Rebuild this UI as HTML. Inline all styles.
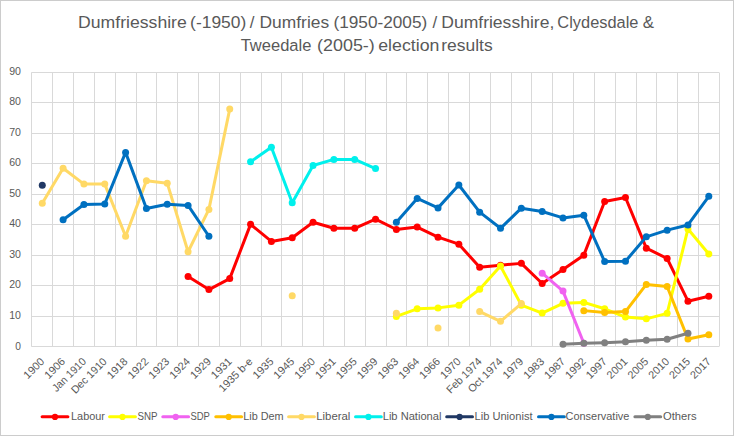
<!DOCTYPE html>
<html><head><meta charset="utf-8"><title>Dumfriesshire election results</title>
<style>html,body{margin:0;padding:0;background:#fff;}body{width:734px;height:436px;overflow:hidden;}svg{display:block;}text{font-family:'Liberation Sans', Arial, sans-serif;fill:#595959;}</style></head><body>
<svg width="734" height="436" viewBox="0 0 734 436">
<rect x="0" y="0" width="734" height="436" fill="#fff"/>
<rect x="0.5" y="0.5" width="733" height="435" fill="none" stroke="#CCCCCC" stroke-width="1"/>
<text x="78.05" y="27.80" font-size="16.9" textLength="108.73" lengthAdjust="spacingAndGlyphs">Dumfriesshire</text>
<text x="190.12" y="27.80" font-size="16.9" textLength="56.16" lengthAdjust="spacingAndGlyphs">(-1950)</text>
<text x="252.20" y="27.80" font-size="16.9" text-anchor="middle">/</text>
<text x="259.57" y="27.80" font-size="16.9" textLength="69.55" lengthAdjust="spacingAndGlyphs">Dumfries</text>
<text x="333.43" y="27.80" font-size="16.9" textLength="93.84" lengthAdjust="spacingAndGlyphs">(1950-2005)</text>
<text x="434.80" y="27.80" font-size="16.9" text-anchor="middle">/</text>
<text x="441.26" y="27.80" font-size="16.9" textLength="113.01" lengthAdjust="spacingAndGlyphs">Dumfriesshire,</text>
<text x="557.37" y="27.80" font-size="16.9" textLength="81.06" lengthAdjust="spacingAndGlyphs">Clydesdale</text>
<text x="648.30" y="27.80" font-size="16.9" text-anchor="middle">&amp;</text>
<text x="240.63" y="51.20" font-size="16.9" textLength="70.79" lengthAdjust="spacingAndGlyphs">Tweedale</text>
<text x="317.09" y="51.20" font-size="16.9" textLength="57.72" lengthAdjust="spacingAndGlyphs">(2005-)</text>
<text x="378.25" y="51.20" font-size="16.9" textLength="61.10" lengthAdjust="spacingAndGlyphs">election</text>
<text x="441.24" y="51.20" font-size="16.9" textLength="51.39" lengthAdjust="spacingAndGlyphs">results</text>
<path d="M31.4 346.5H719.0M31.4 316.5H719.0M31.4 285.5H719.0M31.4 255.5H719.0M31.4 224.5H719.0M31.4 194.5H719.0M31.4 163.5H719.0M31.4 133.5H719.0M31.4 102.5H719.0M31.4 72.5H719.0M31.5 72.5V346.5M52.5 72.5V346.5M73.5 72.5V346.5M94.5 72.5V346.5M115.5 72.5V346.5M136.5 72.5V346.5M156.5 72.5V346.5M177.5 72.5V346.5M198.5 72.5V346.5M219.5 72.5V346.5M240.5 72.5V346.5M261.5 72.5V346.5M281.5 72.5V346.5M302.5 72.5V346.5M323.5 72.5V346.5M344.5 72.5V346.5M365.5 72.5V346.5M386.5 72.5V346.5M406.5 72.5V346.5M427.5 72.5V346.5M448.5 72.5V346.5M469.5 72.5V346.5M490.5 72.5V346.5M511.5 72.5V346.5M531.5 72.5V346.5M552.5 72.5V346.5M573.5 72.5V346.5M594.5 72.5V346.5M615.5 72.5V346.5M636.5 72.5V346.5M656.5 72.5V346.5M677.5 72.5V346.5M698.5 72.5V346.5M719.5 72.5V346.5" stroke="#D9D9D9" stroke-width="1" fill="none"/>
<text x="21.00" y="350.10" font-size="10.8" textLength="5.68" lengthAdjust="spacingAndGlyphs" text-anchor="end">0</text>
<text x="21.00" y="318.81" font-size="10.8" textLength="11.76" lengthAdjust="spacingAndGlyphs" text-anchor="end">10</text>
<text x="21.00" y="288.32" font-size="10.8" textLength="11.76" lengthAdjust="spacingAndGlyphs" text-anchor="end">20</text>
<text x="21.00" y="257.83" font-size="10.8" textLength="11.76" lengthAdjust="spacingAndGlyphs" text-anchor="end">30</text>
<text x="21.00" y="227.34" font-size="10.8" textLength="11.76" lengthAdjust="spacingAndGlyphs" text-anchor="end">40</text>
<text x="21.00" y="196.86" font-size="10.8" textLength="11.76" lengthAdjust="spacingAndGlyphs" text-anchor="end">50</text>
<text x="21.00" y="166.37" font-size="10.8" textLength="11.76" lengthAdjust="spacingAndGlyphs" text-anchor="end">60</text>
<text x="21.00" y="135.88" font-size="10.8" textLength="11.76" lengthAdjust="spacingAndGlyphs" text-anchor="end">70</text>
<text x="21.00" y="105.39" font-size="10.8" textLength="11.76" lengthAdjust="spacingAndGlyphs" text-anchor="end">80</text>
<text x="21.00" y="74.90" font-size="10.8" textLength="11.76" lengthAdjust="spacingAndGlyphs" text-anchor="end">90</text>
<text transform="translate(45.07 362.20) rotate(-45)" font-size="10.8" text-anchor="end" textLength="24.33" lengthAdjust="spacingAndGlyphs">1900</text>
<text transform="translate(65.90 362.20) rotate(-45)" font-size="10.8" text-anchor="end" textLength="24.33" lengthAdjust="spacingAndGlyphs">1906</text>
<text transform="translate(86.73 362.20) rotate(-45)" font-size="10.8" text-anchor="end" textLength="42.92" lengthAdjust="spacingAndGlyphs">Jan 1910</text>
<text transform="translate(107.56 362.20) rotate(-45)" font-size="10.8" text-anchor="end" textLength="45.47" lengthAdjust="spacingAndGlyphs">Dec 1910</text>
<text transform="translate(128.39 362.20) rotate(-45)" font-size="10.8" text-anchor="end" textLength="24.33" lengthAdjust="spacingAndGlyphs">1918</text>
<text transform="translate(149.22 362.20) rotate(-45)" font-size="10.8" text-anchor="end" textLength="24.33" lengthAdjust="spacingAndGlyphs">1922</text>
<text transform="translate(170.04 362.20) rotate(-45)" font-size="10.8" text-anchor="end" textLength="24.33" lengthAdjust="spacingAndGlyphs">1923</text>
<text transform="translate(190.87 362.20) rotate(-45)" font-size="10.8" text-anchor="end" textLength="24.33" lengthAdjust="spacingAndGlyphs">1924</text>
<text transform="translate(211.70 362.20) rotate(-45)" font-size="10.8" text-anchor="end" textLength="24.33" lengthAdjust="spacingAndGlyphs">1929</text>
<text transform="translate(232.53 362.20) rotate(-45)" font-size="10.8" text-anchor="end" textLength="24.33" lengthAdjust="spacingAndGlyphs">1931</text>
<text transform="translate(253.36 362.20) rotate(-45)" font-size="10.8" text-anchor="end" textLength="42.99" lengthAdjust="spacingAndGlyphs">1935 b-e</text>
<text transform="translate(274.19 362.20) rotate(-45)" font-size="10.8" text-anchor="end" textLength="24.33" lengthAdjust="spacingAndGlyphs">1935</text>
<text transform="translate(295.02 362.20) rotate(-45)" font-size="10.8" text-anchor="end" textLength="24.33" lengthAdjust="spacingAndGlyphs">1945</text>
<text transform="translate(315.85 362.20) rotate(-45)" font-size="10.8" text-anchor="end" textLength="24.33" lengthAdjust="spacingAndGlyphs">1950</text>
<text transform="translate(336.68 362.20) rotate(-45)" font-size="10.8" text-anchor="end" textLength="24.33" lengthAdjust="spacingAndGlyphs">1951</text>
<text transform="translate(357.50 362.20) rotate(-45)" font-size="10.8" text-anchor="end" textLength="24.33" lengthAdjust="spacingAndGlyphs">1955</text>
<text transform="translate(378.33 362.20) rotate(-45)" font-size="10.8" text-anchor="end" textLength="24.33" lengthAdjust="spacingAndGlyphs">1959</text>
<text transform="translate(399.16 362.20) rotate(-45)" font-size="10.8" text-anchor="end" textLength="24.33" lengthAdjust="spacingAndGlyphs">1963</text>
<text transform="translate(419.99 362.20) rotate(-45)" font-size="10.8" text-anchor="end" textLength="24.33" lengthAdjust="spacingAndGlyphs">1964</text>
<text transform="translate(440.82 362.20) rotate(-45)" font-size="10.8" text-anchor="end" textLength="24.33" lengthAdjust="spacingAndGlyphs">1966</text>
<text transform="translate(461.65 362.20) rotate(-45)" font-size="10.8" text-anchor="end" textLength="24.33" lengthAdjust="spacingAndGlyphs">1970</text>
<text transform="translate(482.48 362.20) rotate(-45)" font-size="10.8" text-anchor="end" textLength="44.83" lengthAdjust="spacingAndGlyphs">Feb 1974</text>
<text transform="translate(503.31 362.20) rotate(-45)" font-size="10.8" text-anchor="end" textLength="44.08" lengthAdjust="spacingAndGlyphs">Oct 1974</text>
<text transform="translate(524.14 362.20) rotate(-45)" font-size="10.8" text-anchor="end" textLength="24.33" lengthAdjust="spacingAndGlyphs">1979</text>
<text transform="translate(544.97 362.20) rotate(-45)" font-size="10.8" text-anchor="end" textLength="24.33" lengthAdjust="spacingAndGlyphs">1983</text>
<text transform="translate(565.79 362.20) rotate(-45)" font-size="10.8" text-anchor="end" textLength="24.33" lengthAdjust="spacingAndGlyphs">1987</text>
<text transform="translate(586.62 362.20) rotate(-45)" font-size="10.8" text-anchor="end" textLength="24.33" lengthAdjust="spacingAndGlyphs">1992</text>
<text transform="translate(607.45 362.20) rotate(-45)" font-size="10.8" text-anchor="end" textLength="24.33" lengthAdjust="spacingAndGlyphs">1997</text>
<text transform="translate(628.28 362.20) rotate(-45)" font-size="10.8" text-anchor="end" textLength="24.33" lengthAdjust="spacingAndGlyphs">2001</text>
<text transform="translate(649.11 362.20) rotate(-45)" font-size="10.8" text-anchor="end" textLength="24.33" lengthAdjust="spacingAndGlyphs">2005</text>
<text transform="translate(669.94 362.20) rotate(-45)" font-size="10.8" text-anchor="end" textLength="24.33" lengthAdjust="spacingAndGlyphs">2010</text>
<text transform="translate(690.77 362.20) rotate(-45)" font-size="10.8" text-anchor="end" textLength="24.33" lengthAdjust="spacingAndGlyphs">2015</text>
<text transform="translate(711.60 362.20) rotate(-45)" font-size="10.8" text-anchor="end" textLength="24.33" lengthAdjust="spacingAndGlyphs">2017</text>
<polyline points="188.07,276.48 208.90,289.59 229.73,278.61 250.56,224.34 271.39,241.42 292.22,237.76 313.05,222.21 333.88,228.31 354.70,228.31 375.53,219.16 396.36,229.53 417.19,227.09 438.02,237.15 458.85,244.16 479.68,267.33 500.51,265.20 521.34,263.37 542.17,283.49 563.00,269.47 583.82,255.14 604.65,201.48 625.48,197.51 646.31,248.13 667.14,258.49 687.97,301.18 708.80,296.30" fill="none" stroke="#FF0000" stroke-width="3.0" stroke-linejoin="round" stroke-linecap="round"/>
<circle cx="188.07" cy="276.48" r="3.5" fill="#FF0000"/>
<circle cx="208.90" cy="289.59" r="3.5" fill="#FF0000"/>
<circle cx="229.73" cy="278.61" r="3.5" fill="#FF0000"/>
<circle cx="250.56" cy="224.34" r="3.5" fill="#FF0000"/>
<circle cx="271.39" cy="241.42" r="3.5" fill="#FF0000"/>
<circle cx="292.22" cy="237.76" r="3.5" fill="#FF0000"/>
<circle cx="313.05" cy="222.21" r="3.5" fill="#FF0000"/>
<circle cx="333.88" cy="228.31" r="3.5" fill="#FF0000"/>
<circle cx="354.70" cy="228.31" r="3.5" fill="#FF0000"/>
<circle cx="375.53" cy="219.16" r="3.5" fill="#FF0000"/>
<circle cx="396.36" cy="229.53" r="3.5" fill="#FF0000"/>
<circle cx="417.19" cy="227.09" r="3.5" fill="#FF0000"/>
<circle cx="438.02" cy="237.15" r="3.5" fill="#FF0000"/>
<circle cx="458.85" cy="244.16" r="3.5" fill="#FF0000"/>
<circle cx="479.68" cy="267.33" r="3.5" fill="#FF0000"/>
<circle cx="500.51" cy="265.20" r="3.5" fill="#FF0000"/>
<circle cx="521.34" cy="263.37" r="3.5" fill="#FF0000"/>
<circle cx="542.17" cy="283.49" r="3.5" fill="#FF0000"/>
<circle cx="563.00" cy="269.47" r="3.5" fill="#FF0000"/>
<circle cx="583.82" cy="255.14" r="3.5" fill="#FF0000"/>
<circle cx="604.65" cy="201.48" r="3.5" fill="#FF0000"/>
<circle cx="625.48" cy="197.51" r="3.5" fill="#FF0000"/>
<circle cx="646.31" cy="248.13" r="3.5" fill="#FF0000"/>
<circle cx="667.14" cy="258.49" r="3.5" fill="#FF0000"/>
<circle cx="687.97" cy="301.18" r="3.5" fill="#FF0000"/>
<circle cx="708.80" cy="296.30" r="3.5" fill="#FF0000"/>
<polyline points="396.36,316.42 417.19,308.80 438.02,307.88 458.85,305.14 479.68,289.29 500.51,266.11 521.34,305.14 542.17,313.07 563.00,303.31 583.82,302.40 604.65,308.80 625.48,317.03 646.31,318.86 667.14,313.37 687.97,228.92 708.80,253.92" fill="none" stroke="#FFFF00" stroke-width="3.0" stroke-linejoin="round" stroke-linecap="round"/>
<circle cx="396.36" cy="316.42" r="3.5" fill="#FFFF00"/>
<circle cx="417.19" cy="308.80" r="3.5" fill="#FFFF00"/>
<circle cx="438.02" cy="307.88" r="3.5" fill="#FFFF00"/>
<circle cx="458.85" cy="305.14" r="3.5" fill="#FFFF00"/>
<circle cx="479.68" cy="289.29" r="3.5" fill="#FFFF00"/>
<circle cx="500.51" cy="266.11" r="3.5" fill="#FFFF00"/>
<circle cx="521.34" cy="305.14" r="3.5" fill="#FFFF00"/>
<circle cx="542.17" cy="313.07" r="3.5" fill="#FFFF00"/>
<circle cx="563.00" cy="303.31" r="3.5" fill="#FFFF00"/>
<circle cx="583.82" cy="302.40" r="3.5" fill="#FFFF00"/>
<circle cx="604.65" cy="308.80" r="3.5" fill="#FFFF00"/>
<circle cx="625.48" cy="317.03" r="3.5" fill="#FFFF00"/>
<circle cx="646.31" cy="318.86" r="3.5" fill="#FFFF00"/>
<circle cx="667.14" cy="313.37" r="3.5" fill="#FFFF00"/>
<circle cx="687.97" cy="228.92" r="3.5" fill="#FFFF00"/>
<circle cx="708.80" cy="253.92" r="3.5" fill="#FFFF00"/>
<polyline points="542.17,273.13 563.00,291.12 583.82,343.25" fill="none" stroke="#F062F0" stroke-width="3.0" stroke-linejoin="round" stroke-linecap="round"/>
<circle cx="542.17" cy="273.13" r="3.5" fill="#F062F0"/>
<circle cx="563.00" cy="291.12" r="3.5" fill="#F062F0"/>
<circle cx="583.82" cy="343.25" r="3.5" fill="#F062F0"/>
<polyline points="583.82,310.63 604.65,312.46 625.48,311.54 646.31,284.41 667.14,286.54 687.97,338.98 708.80,334.71" fill="none" stroke="#FFC000" stroke-width="3.0" stroke-linejoin="round" stroke-linecap="round"/>
<circle cx="583.82" cy="310.63" r="3.5" fill="#FFC000"/>
<circle cx="604.65" cy="312.46" r="3.5" fill="#FFC000"/>
<circle cx="625.48" cy="311.54" r="3.5" fill="#FFC000"/>
<circle cx="646.31" cy="284.41" r="3.5" fill="#FFC000"/>
<circle cx="667.14" cy="286.54" r="3.5" fill="#FFC000"/>
<circle cx="687.97" cy="338.98" r="3.5" fill="#FFC000"/>
<circle cx="708.80" cy="334.71" r="3.5" fill="#FFC000"/>
<polyline points="42.27,203.31 63.10,168.24 83.93,184.10 104.76,184.10 125.59,236.24 146.42,180.75 167.24,183.18 188.07,251.78 208.90,209.40 229.73,109.10" fill="none" stroke="#FFD966" stroke-width="3.0" stroke-linejoin="round" stroke-linecap="round"/>
<polyline points="479.68,311.54 500.51,321.30 521.34,303.62" fill="none" stroke="#FFD966" stroke-width="3.0" stroke-linejoin="round" stroke-linecap="round"/>
<circle cx="42.27" cy="203.31" r="3.5" fill="#FFD966"/>
<circle cx="63.10" cy="168.24" r="3.5" fill="#FFD966"/>
<circle cx="83.93" cy="184.10" r="3.5" fill="#FFD966"/>
<circle cx="104.76" cy="184.10" r="3.5" fill="#FFD966"/>
<circle cx="125.59" cy="236.24" r="3.5" fill="#FFD966"/>
<circle cx="146.42" cy="180.75" r="3.5" fill="#FFD966"/>
<circle cx="167.24" cy="183.18" r="3.5" fill="#FFD966"/>
<circle cx="188.07" cy="251.78" r="3.5" fill="#FFD966"/>
<circle cx="208.90" cy="209.40" r="3.5" fill="#FFD966"/>
<circle cx="229.73" cy="109.10" r="3.5" fill="#FFD966"/>
<circle cx="292.22" cy="295.69" r="3.5" fill="#FFD966"/>
<circle cx="396.36" cy="313.37" r="3.5" fill="#FFD966"/>
<circle cx="438.02" cy="328.01" r="3.5" fill="#FFD966"/>
<circle cx="479.68" cy="311.54" r="3.5" fill="#FFD966"/>
<circle cx="500.51" cy="321.30" r="3.5" fill="#FFD966"/>
<circle cx="521.34" cy="303.62" r="3.5" fill="#FFD966"/>
<polyline points="250.56,161.84 271.39,147.21 292.22,202.70 313.05,165.50 333.88,159.40 354.70,159.40 375.53,168.55" fill="none" stroke="#00F0EC" stroke-width="3.0" stroke-linejoin="round" stroke-linecap="round"/>
<circle cx="250.56" cy="161.84" r="3.5" fill="#00F0EC"/>
<circle cx="271.39" cy="147.21" r="3.5" fill="#00F0EC"/>
<circle cx="292.22" cy="202.70" r="3.5" fill="#00F0EC"/>
<circle cx="313.05" cy="165.50" r="3.5" fill="#00F0EC"/>
<circle cx="333.88" cy="159.40" r="3.5" fill="#00F0EC"/>
<circle cx="354.70" cy="159.40" r="3.5" fill="#00F0EC"/>
<circle cx="375.53" cy="168.55" r="3.5" fill="#00F0EC"/>
<circle cx="42.27" cy="185.32" r="3.5" fill="#203864"/>
<polyline points="63.10,219.77 83.93,204.53 104.76,203.92 125.59,152.39 146.42,208.49 167.24,204.22 188.07,205.44 208.90,236.24" fill="none" stroke="#0070C0" stroke-width="3.0" stroke-linejoin="round" stroke-linecap="round"/>
<polyline points="396.36,222.21 417.19,198.43 438.02,207.88 458.85,185.01 479.68,212.15 500.51,228.31 521.34,208.19 542.17,211.54 563.00,217.94 583.82,215.20 604.65,261.54 625.48,261.24 646.31,236.84 667.14,230.14 687.97,224.95 708.80,196.29" fill="none" stroke="#0070C0" stroke-width="3.0" stroke-linejoin="round" stroke-linecap="round"/>
<circle cx="63.10" cy="219.77" r="3.5" fill="#0070C0"/>
<circle cx="83.93" cy="204.53" r="3.5" fill="#0070C0"/>
<circle cx="104.76" cy="203.92" r="3.5" fill="#0070C0"/>
<circle cx="125.59" cy="152.39" r="3.5" fill="#0070C0"/>
<circle cx="146.42" cy="208.49" r="3.5" fill="#0070C0"/>
<circle cx="167.24" cy="204.22" r="3.5" fill="#0070C0"/>
<circle cx="188.07" cy="205.44" r="3.5" fill="#0070C0"/>
<circle cx="208.90" cy="236.24" r="3.5" fill="#0070C0"/>
<circle cx="396.36" cy="222.21" r="3.5" fill="#0070C0"/>
<circle cx="417.19" cy="198.43" r="3.5" fill="#0070C0"/>
<circle cx="438.02" cy="207.88" r="3.5" fill="#0070C0"/>
<circle cx="458.85" cy="185.01" r="3.5" fill="#0070C0"/>
<circle cx="479.68" cy="212.15" r="3.5" fill="#0070C0"/>
<circle cx="500.51" cy="228.31" r="3.5" fill="#0070C0"/>
<circle cx="521.34" cy="208.19" r="3.5" fill="#0070C0"/>
<circle cx="542.17" cy="211.54" r="3.5" fill="#0070C0"/>
<circle cx="563.00" cy="217.94" r="3.5" fill="#0070C0"/>
<circle cx="583.82" cy="215.20" r="3.5" fill="#0070C0"/>
<circle cx="604.65" cy="261.54" r="3.5" fill="#0070C0"/>
<circle cx="625.48" cy="261.24" r="3.5" fill="#0070C0"/>
<circle cx="646.31" cy="236.84" r="3.5" fill="#0070C0"/>
<circle cx="667.14" cy="230.14" r="3.5" fill="#0070C0"/>
<circle cx="687.97" cy="224.95" r="3.5" fill="#0070C0"/>
<circle cx="708.80" cy="196.29" r="3.5" fill="#0070C0"/>
<polyline points="563.00,344.17 583.82,343.25 604.65,342.64 625.48,341.73 646.31,340.20 667.14,339.29 687.97,333.19" fill="none" stroke="#808080" stroke-width="3.0" stroke-linejoin="round" stroke-linecap="round"/>
<circle cx="563.00" cy="344.17" r="3.5" fill="#808080"/>
<circle cx="583.82" cy="343.25" r="3.5" fill="#808080"/>
<circle cx="604.65" cy="342.64" r="3.5" fill="#808080"/>
<circle cx="625.48" cy="341.73" r="3.5" fill="#808080"/>
<circle cx="646.31" cy="340.20" r="3.5" fill="#808080"/>
<circle cx="667.14" cy="339.29" r="3.5" fill="#808080"/>
<circle cx="687.97" cy="333.19" r="3.5" fill="#808080"/>
<path d="M42.1 416.7H67.9" stroke="#FF0000" stroke-width="3" stroke-linecap="round"/>
<circle cx="55.0" cy="416.9" r="3.1" fill="#FF0000"/>
<text x="71.00" y="419.80" font-size="11.0" textLength="33.98" lengthAdjust="spacingAndGlyphs">Labour</text>
<path d="M109.6 416.7H135.4" stroke="#FFFF00" stroke-width="3" stroke-linecap="round"/>
<circle cx="122.5" cy="416.9" r="3.1" fill="#FFFF00"/>
<text x="137.46" y="419.80" font-size="11.0" textLength="20.06" lengthAdjust="spacingAndGlyphs">SNP</text>
<path d="M162.8 416.7H188.6" stroke="#F062F0" stroke-width="3" stroke-linecap="round"/>
<circle cx="175.7" cy="416.9" r="3.1" fill="#F062F0"/>
<text x="190.47" y="419.80" font-size="11.0" textLength="19.43" lengthAdjust="spacingAndGlyphs">SDP</text>
<path d="M215.8 416.7H241.6" stroke="#FFC000" stroke-width="3" stroke-linecap="round"/>
<circle cx="228.7" cy="416.9" r="3.1" fill="#FFC000"/>
<text x="243.21" y="419.80" font-size="11.0" textLength="40.41" lengthAdjust="spacingAndGlyphs">Lib Dem</text>
<path d="M288.6 416.7H314.4" stroke="#FFD966" stroke-width="3" stroke-linecap="round"/>
<circle cx="301.5" cy="416.9" r="3.1" fill="#FFD966"/>
<text x="316.27" y="419.80" font-size="11.0" textLength="34.09" lengthAdjust="spacingAndGlyphs">Liberal</text>
<path d="M355.5 416.7H381.3" stroke="#00F0EC" stroke-width="3" stroke-linecap="round"/>
<circle cx="368.4" cy="416.9" r="3.1" fill="#00F0EC"/>
<text x="382.69" y="419.80" font-size="11.0" textLength="58.76" lengthAdjust="spacingAndGlyphs">Lib National</text>
<path d="M446.7 416.7H472.5" stroke="#203864" stroke-width="3" stroke-linecap="round"/>
<circle cx="459.6" cy="416.9" r="3.1" fill="#203864"/>
<text x="474.49" y="419.80" font-size="11.0" textLength="58.09" lengthAdjust="spacingAndGlyphs">Lib Unionist</text>
<path d="M538.5 416.7H564.3" stroke="#0070C0" stroke-width="3" stroke-linecap="round"/>
<circle cx="551.4" cy="416.9" r="3.1" fill="#0070C0"/>
<text x="565.54" y="419.80" font-size="11.0" textLength="63.84" lengthAdjust="spacingAndGlyphs">Conservative</text>
<path d="M634.9 416.7H660.7" stroke="#808080" stroke-width="3" stroke-linecap="round"/>
<circle cx="647.8" cy="416.9" r="3.1" fill="#808080"/>
<text x="662.97" y="419.80" font-size="11.0" textLength="33.64" lengthAdjust="spacingAndGlyphs">Others</text>
</svg>
</body></html>
